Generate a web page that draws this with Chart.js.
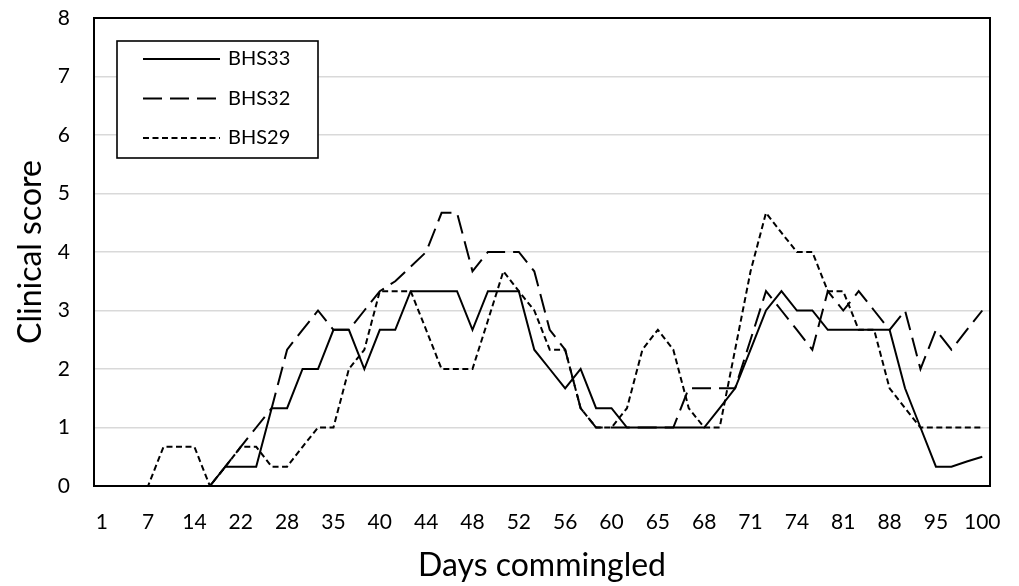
<!DOCTYPE html>
<html>
<head>
<meta charset="utf-8">
<script src="https://cdn.jsdelivr.net/npm/chart.js@4.4.1/dist/chart.umd.min.js"></script>
<style>
  html, body { margin: 0; padding: 0; background: #ffffff; }
  #wrap { width: 1019px; height: 586px; }
</style>
</head>
<body>
<div id="wrap"><canvas id="c" width="1019" height="586"></canvas></div>
<script>
// ---- data ----
const tickLabels = ['1','7','14','22','28','35','40','44','48','52','56','60','65','68','71','74','81','88','95','100'];
const categoryCount = 58; // one labelled category every third
const seriesNames = ['BHS33', 'BHS32', 'BHS29'];

const bhs33 = [null,
  0,0,0,0,0,0,0,0.33,0.33,0.33,1.33,1.33,2,2,2.67,2.67,2,2.67,2.67,3.33,
  3.33,3.33,3.33,2.67,3.33,3.33,3.33,2.33,2,1.67,2,1.33,1.33,1,1,1,1,1,1,1.33,
  1.67,2.33,3,3.33,3,3,2.67,2.67,2.67,2.67,2.67,1.67,1,0.33,0.33,0.42,0.5];

const bhs32 = [null,
  0,0,0,0,0,0,0,0.33,0.67,1,1.33,2.33,2.67,3,2.67,2.67,3,3.33,3.5,3.75,
  4,4.67,4.67,3.67,4,4,4,3.67,2.67,2.33,1.33,1,1,1,1,1,1,1.67,1.67,1.67,
  1.67,2.5,3.33,3,2.67,2.33,3.33,3,3.33,3,2.67,3,2,2.67,2.33,2.67,3];

const bhs29 = [null,
  0,0,0,0.67,0.67,0.67,0,0.33,0.67,0.67,0.33,0.33,0.67,1,1,2,2.33,3.33,3.33,3.33,
  2.67,2,2,2,2.83,3.67,3.33,3,2.33,2.33,1.33,1,1,1.33,2.33,2.67,2.33,1.33,1,1,
  2.33,3.67,4.67,4.33,4,4,3.33,3.33,2.67,2.67,1.67,1.33,1,1,1,1,1];

// categories: labelled every third slot, others unlabeled
const categories = [];
for (let i = 0; i < categoryCount; i++) {
  categories.push(i % 3 === 0 ? tickLabels[i / 3] : '');
}

const FONT = 'Lato, "Open Sans", "DejaVu Sans", sans-serif';
const dashes = [[], [19, 8], [6, 3.5]];

const frameAndLegend = {
  id: 'frameAndLegend',
  afterDatasetsDraw(chart) {
    const ctx = chart.ctx;
    const a = chart.chartArea;
    ctx.save();
    // plot frame
    ctx.strokeStyle = '#000';
    ctx.lineWidth = 2;
    ctx.setLineDash([]);
    ctx.strokeRect(a.left, a.top, a.right - a.left, a.bottom - a.top);
    // legend box
    const bx = a.left + 23, by = a.top + 23, bw = 201, bh = 117;
    ctx.fillStyle = '#fff';
    ctx.fillRect(bx, by, bw, bh);
    ctx.lineWidth = 1.6;
    ctx.strokeRect(bx, by, bw, bh);
    ctx.font = '20px ' + FONT;
    ctx.textBaseline = 'middle';
    ctx.textAlign = 'left';
    const rows = [by + 18, by + 57.5, by + 97];
    chart.data.datasets.forEach((ds, i) => {
      ctx.beginPath();
      ctx.setLineDash(ds.borderDash || []);
      ctx.lineWidth = 2;
      ctx.strokeStyle = '#000';
      ctx.moveTo(bx + 26, rows[i]);
      ctx.lineTo(bx + 103, rows[i]);
      ctx.stroke();
      ctx.setLineDash([]);
      ctx.fillStyle = '#000';
      ctx.fillText(ds.label, bx + 111, rows[i]);
    });
    ctx.restore();
  }
};

const seriesData = [bhs33, bhs32, bhs29];
new Chart(document.getElementById('c'), {
  type: 'line',
  data: {
    labels: categories,
    datasets: seriesNames.map((name, i) => ({
      label: name,
      data: seriesData[i],
      borderColor: '#000',
      backgroundColor: '#000',
      borderWidth: 2,
      borderDash: dashes[i],
      pointRadius: 0,
      pointHoverRadius: 0,
      tension: 0,
      fill: false
    }))
  },
  options: {
    responsive: false,
    devicePixelRatio: 1,
    animation: false,
    layout: { padding: { top: 18, right: 29, left: 0, bottom: 0 } },
    plugins: { legend: { display: false }, tooltip: { enabled: false } },
    scales: {
      x: {
        type: 'category',
        offset: true,
        grid: { display: false, drawTicks: false },
        border: { display: true, color: '#000', width: 2 },
        ticks: {
          autoSkip: false, maxRotation: 0, minRotation: 0,
          padding: 24, color: '#000',
          font: { family: FONT, size: 21 }
        },
        title: {
          display: true, text: 'Days commingled', color: '#000',
          font: { family: FONT, size: 32 }, padding: { top: 0, bottom: 1 }
        },
        afterFit(scale) {
          scale.height = 100;
          scale.paddingLeft = 0; scale.paddingRight = 0;
        }
      },
      y: {
        min: 0, max: 8,
        grid: {
          drawTicks: false,
          color: (c) => (c.tick && c.tick.value === 0) ? 'rgba(0,0,0,0)' : '#d9d9d9',
          lineWidth: 1.5
        },
        border: { display: true, color: '#000', width: 2 },
        ticks: {
          stepSize: 1, padding: 24, color: '#000',
          font: { family: FONT, size: 21 }
        },
        title: {
          display: true, text: 'Clinical score', color: '#000',
          font: { family: FONT, size: 32 }, padding: { top: 11, bottom: 0 }
        },
        afterFit(scale) {
          scale.width = 94;
          scale.paddingTop = 0; scale.paddingBottom = 0;
        }
      }
    }
  },
  plugins: [frameAndLegend]
});
</script>
</body>
</html>
